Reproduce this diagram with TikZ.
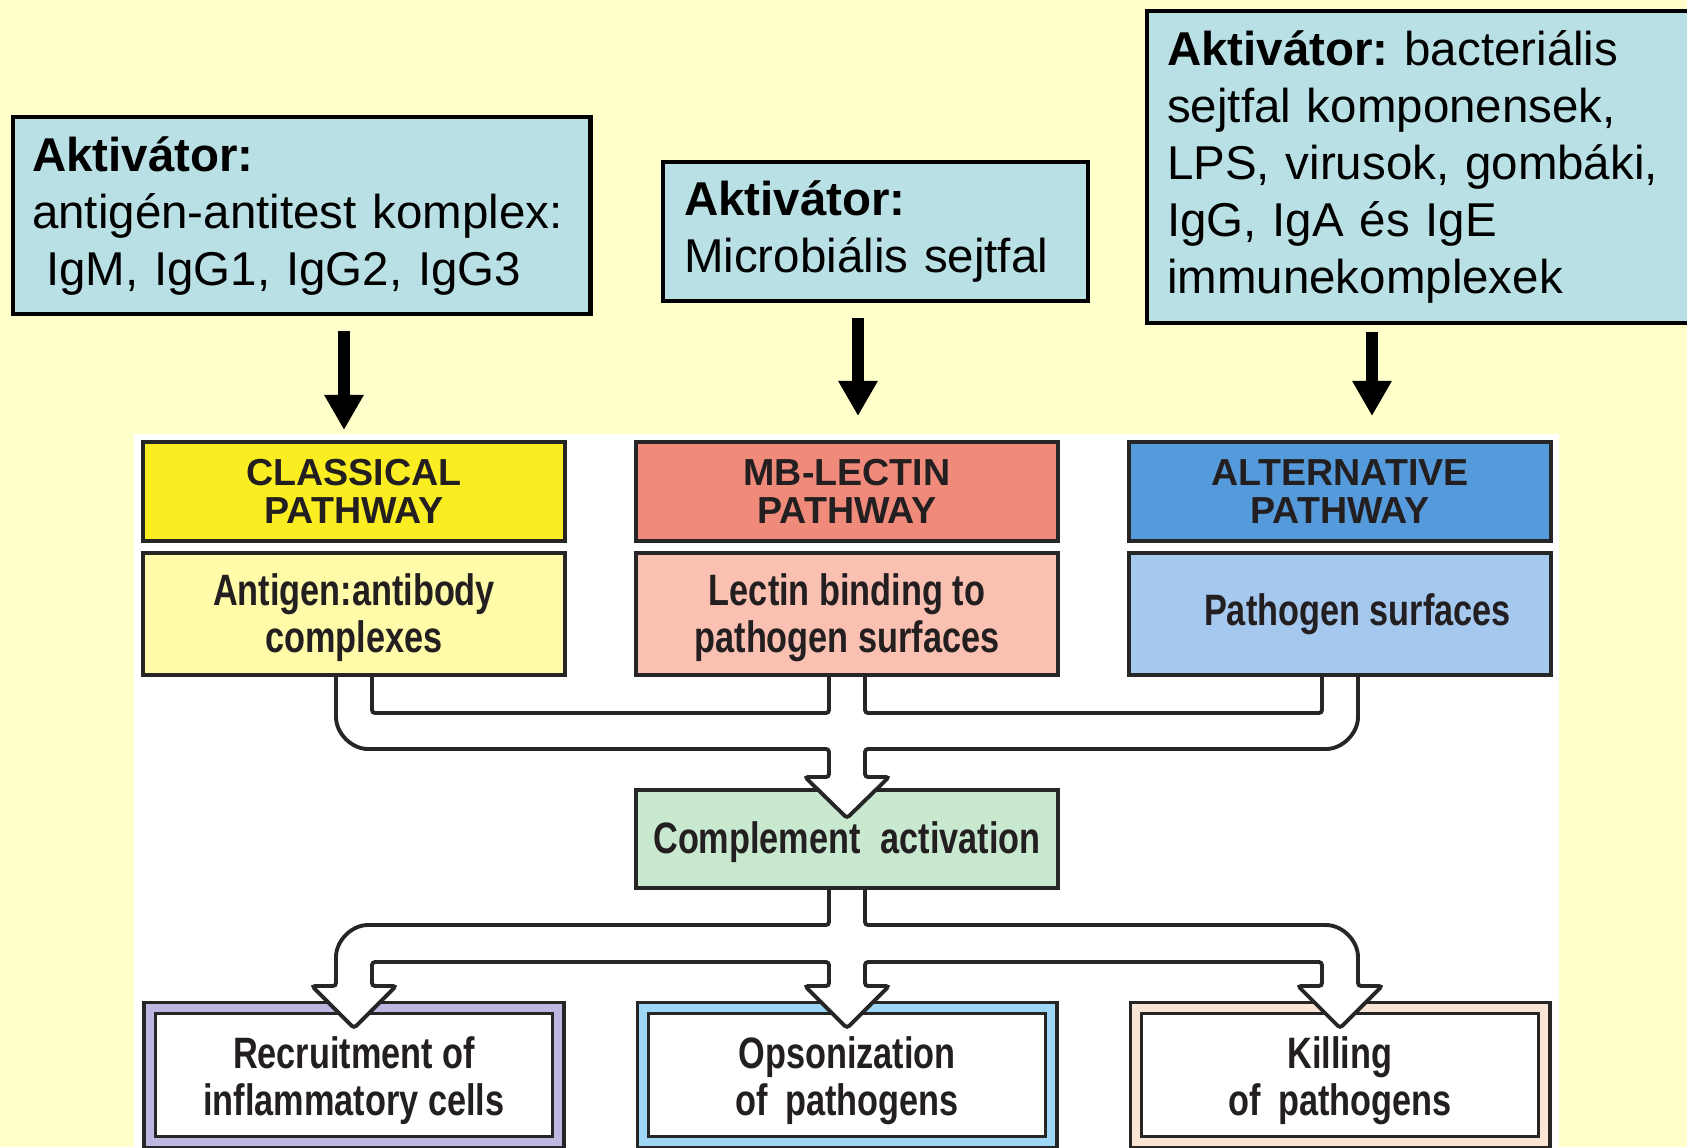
\documentclass[tikz,border=0pt]{standalone}
\usepackage{fontspec}
\setmainfont{Liberation Sans}
\newfontfamily\condfont[FakeStretch=0.78]{Liberation Sans}
\usepackage{xcolor}
\usepackage{tikz}
\usetikzlibrary{arrows.meta}
\frenchspacing

\definecolor{bgyellow}{RGB}{255,255,204}
\definecolor{aktblue}{RGB}{185,224,228}
\definecolor{linegray}{RGB}{38,38,38}
\definecolor{txtgray}{RGB}{35,31,32}
\definecolor{clyellow}{RGB}{250,238,35}
\definecolor{cllight}{RGB}{255,251,168}
\definecolor{lecred}{RGB}{240,138,122}
\definecolor{leclight}{RGB}{250,192,178}
\definecolor{altblue}{RGB}{85,155,220}
\definecolor{altlight}{RGB}{165,200,238}
\definecolor{cplgreen}{RGB}{200,232,208}
\definecolor{lavend}{RGB}{188,184,226}
\definecolor{opsblue}{RGB}{158,214,245}
\definecolor{peach}{RGB}{252,228,212}

\newcommand{\aktfont}{\fontsize{13.5}{16.2}\selectfont}
\newcommand{\hdrfont}{\bfseries\fontsize{10.7}{10.9}\selectfont}
\newcommand{\dfont}{\condfont\bfseries\fontsize{12.5}{13.3}\selectfont}
\newcommand{\topstrut}[1]{\rule{0pt}{#1}}

\begin{document}
\begin{tikzpicture}[x=0.01cm,y=-0.01cm,
	akt/.style={draw=black,line width=1.2pt,fill=aktblue,anchor=north west,align=left,font=\aktfont},
	hdr/.style={draw=linegray,line width=1.1pt,minimum width=4.22cm,minimum height=0.99cm,inner sep=0pt,align=center,text=txtgray,font=\hdrfont},
	sub/.style={draw=linegray,line width=1.1pt,minimum width=4.22cm,minimum height=1.22cm,inner sep=0pt,align=center,text=txtgray,font=\dfont},
	res/.style={draw=linegray,line width=1pt,double distance=2.2pt,fill=white,minimum width=4.08cm,minimum height=1.34cm,inner sep=0pt,align=center,text=txtgray,font=\dfont},
	pipe/.style={draw=linegray,line width=1.1pt,rounded corners=0.03cm},
	blk/.style={line width=3.4pt,-{Triangle[width=0.37cm,length=0.35cm]},shorten <=0.15cm}]
	\useasboundingbox (0,0) rectangle (1687,1147);
	\clip (0,0) rectangle (1687,1147);
	\fill[bgyellow] (0,0) rectangle (1687,1147);
	\fill[white] (134,434) rectangle (1559,1147);
	
	% activators
	\node[akt,text width=5.39cm,inner xsep=0.19cm,minimum height=1.97cm] (akt1) at (11,115)
		{\textbf{Aktivátor:}\\antigén-antitest komplex:\\\hspace*{0.14cm}IgM, IgG1, IgG2, IgG3};
	\node[akt,text width=3.83cm,inner xsep=0.21cm,minimum height=1.39cm] (akt2) at (661,160)
		{\textbf{Aktivátor:}\\Microbiális sejtfal};
	\node[akt,text width=5.15cm,inner xsep=0.20cm,minimum height=3.12cm] (akt3) at (1145,9)
		{\textbf{Aktivátor:} bacteriális\\sejtfal komponensek,\\LPS, virusok, gombáki,\\IgG, IgA és IgE\\immunekomplexek};
	
	\coordinate (t1) at (344,430);
	\coordinate (t2) at (858,416);
	\coordinate (t3) at (1372,416);
	\draw[blk] (akt1.south -| t1) -- (t1);
	\draw[blk] (akt2.south -| t2) -- (t2);
	\draw[blk,shorten <=0.07cm] (akt3.south -| t3) -- (t3);
	
	% pathways
	\node[hdr,fill=clyellow] (clh) at (354,491.5) {CLASSICAL\\PATHWAY};
	\node[sub,fill=cllight] (cls) at (354,614) {\topstrut{11pt}Antigen:antibody\\complexes};
	\node[hdr,fill=lecred] (lech) at (847,491.5) {MB-LECTIN\\PATHWAY};
	\node[sub,fill=leclight] (lec) at (847,614) {\topstrut{11pt}Lectin binding to\\pathogen surfaces};
	\node[hdr,fill=altblue] (alth) at (1340,491.5) {ALTERNATIVE\\PATHWAY};
	\node[sub,fill=altlight] (alt) at (1340,614) {\hspace*{0.35cm}Pathogen surfaces};
	
	\node[sub,fill=cplgreen,minimum height=0.98cm] (cpl) at (847,839) {\topstrut{11pt}Complement\hspace{0.45em}activation};
	
	\node[res,double=lavend] (rec) at (354,1075) {\topstrut{12.3pt}Recruitment of\\inflammatory cells};
	\node[res,double=opsblue] (ops) at (847,1075) {\topstrut{12.3pt}Opsonization\\of\hspace{0.4em}pathogens};
	\node[res,double=peach] (kil) at (1340,1075) {\topstrut{12.3pt}Killing\\of\hspace{0.4em}pathogens};
	
	% hollow arrows
	\fill[white] (805,777) -- (847,818) -- (889,777) -- cycle;
	\draw[pipe] ([xshift=-0.18cm]cls.south) -- (336,714) to[out=-90,in=180] (371,749) -- (829,749)
		-- (829,777) -- (805,777) -- (847,818) -- (889,777) -- (865,777) -- (865,749)
		-- (1323,749) to[out=0,in=-90] (1358,714) -- ([xshift=0.18cm]alt.south);
	\draw[pipe] ([xshift=0.18cm]cls.south) -- (372,713) -- (829,713) -- ([xshift=-0.18cm]lec.south);
	\draw[pipe] ([xshift=0.18cm]lec.south) -- (865,713) -- (1322,713) -- ([xshift=-0.18cm]alt.south);
	
	\fill[white] (312,986) -- (354,1028) -- (396,986) -- cycle;
	\fill[white] (805,986) -- (847,1028) -- (889,986) -- cycle;
	\fill[white] (1298,986) -- (1340,1028) -- (1382,986) -- cycle;
	\draw[pipe] ([xshift=-0.18cm]cpl.south) -- (829,925) -- (371,925) to[out=180,in=90] (336,960)
		-- (336,986) -- (312,986) -- (354,1028) -- (396,986) -- (372,986) -- (372,962)
		-- (829,962) -- (829,986) -- (805,986) -- (847,1028) -- (889,986) -- (865,986) -- (865,962)
		-- (1322,962) -- (1322,986) -- (1298,986) -- (1340,1028) -- (1382,986) -- (1358,986)
		-- (1358,960) to[out=90,in=0] (1323,925) -- (865,925) -- ([xshift=0.18cm]cpl.south);
\end{tikzpicture}
\end{document}
